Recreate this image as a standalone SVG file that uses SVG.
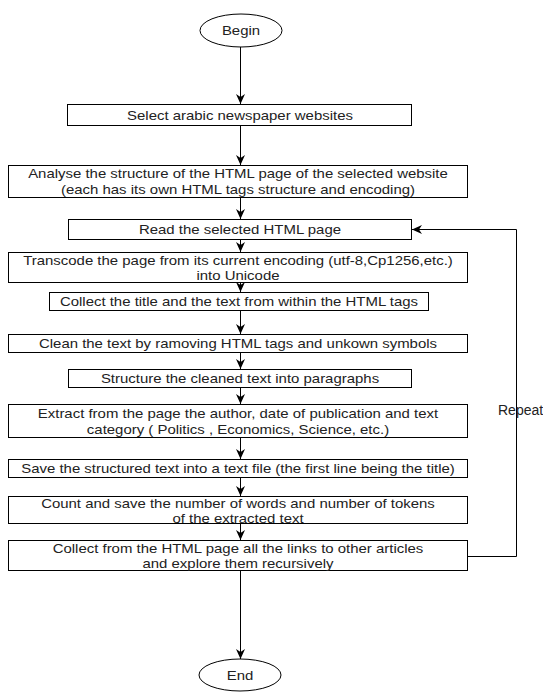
<svg xmlns="http://www.w3.org/2000/svg" width="543" height="692" viewBox="0 0 543 692">
<defs>
<marker id="arr" markerWidth="10" markerHeight="10" viewBox="0 0 10 10" refX="10" refY="5" orient="auto" markerUnits="userSpaceOnUse">
<path d="M0,0.5 L10,5 L0,9.5 L3,5 Z" fill="#000"/>
</marker>
<style>
.n{fill:#fff;stroke:#000;stroke-width:1}
.t{font-family:"Liberation Sans",Arial,sans-serif;font-size:13px;fill:#222;text-anchor:middle;dominant-baseline:central}
.w{transform-box:fill-box;transform-origin:center;transform:scaleX(1.15)}
.r{font-size:14px;text-anchor:start}
.c{fill:none;stroke:#000;stroke-width:1;marker-end:url(#arr)}
</style>
</defs>
<rect width="543" height="692" fill="#fff"/>
<g id="connectors">
<line class="c" x1="240.5" y1="47" x2="240.5" y2="104"/>
<line class="c" x1="240.5" y1="126" x2="240.5" y2="165"/>
<line class="c" x1="240.5" y1="198" x2="240.5" y2="219"/>
<line class="c" x1="240.5" y1="240" x2="240.5" y2="252"/>
<line class="c" x1="240.5" y1="283" x2="240.5" y2="292"/>
<line class="c" x1="240.5" y1="311" x2="240.5" y2="334"/>
<line class="c" x1="240.5" y1="352" x2="240.5" y2="369"/>
<line class="c" x1="240.5" y1="388" x2="240.5" y2="404"/>
<line class="c" x1="240.5" y1="438" x2="240.5" y2="459"/>
<line class="c" x1="240.5" y1="478" x2="240.5" y2="496"/>
<line class="c" x1="240.5" y1="524" x2="240.5" y2="540"/>
<line class="c" x1="240.5" y1="571" x2="240.5" y2="659"/>
<polyline class="c" points="467.5,556.5 516.5,556.5 516.5,229.5 412,229.5"/>
<text class="t r" x="498" y="410">Repeat</text>
</g>
<g id="begin"><ellipse class="n" cx="241" cy="30.5" rx="41" ry="16.5"/><text class="t w" x="241" y="30.5">Begin</text></g>
<g id="select"><rect class="n" x="67.5" y="104.5" width="344" height="21"/><text class="t w" x="240" y="115">Select arabic newspaper websites</text></g>
<g id="analyse"><rect class="n" x="8.5" y="165.5" width="459" height="32"/><text class="t w" x="238" y="173.5">Analyse the structure of the HTML page of the selected website</text><text class="t w" x="238" y="189.5">(each has its own HTML tags structure and encoding)</text></g>
<g id="read"><rect class="n" x="68.5" y="219.5" width="343" height="20"/><text class="t w" x="240" y="229.5">Read the selected HTML page</text></g>
<g id="transcode"><rect class="n" x="8.5" y="252.5" width="459" height="30"/><text class="t w" x="238" y="260">Transcode the page from its current encoding (utf-8,Cp1256,etc.)</text><text class="t w" x="238" y="275">into Unicode</text></g>
<g id="collect-title"><rect class="n" x="49.5" y="292.5" width="379" height="18"/><text class="t w" x="239" y="301.5">Collect the title and the text from within the HTML tags</text></g>
<g id="clean"><rect class="n" x="8.5" y="334.5" width="459" height="18"/><text class="t w" x="238" y="343.5">Clean the text by ramoving HTML tags and unkown symbols</text></g>
<g id="structure"><rect class="n" x="68.5" y="369.5" width="343" height="18"/><text class="t w" x="240" y="378.5">Structure the cleaned text into paragraphs</text></g>
<g id="extract"><rect class="n" x="8.5" y="404.5" width="459" height="33"/><text class="t w" x="238" y="413.5">Extract from the page the author, date of publication and text</text><text class="t w" x="238" y="429">category ( Politics , Economics, Science, etc.)</text></g>
<g id="save"><rect class="n" x="8.5" y="459.5" width="459" height="18"/><text class="t w" x="238" y="468.5">Save the structured text  into a text file (the first line being the title)</text></g>
<g id="count"><rect class="n" x="8.5" y="496.5" width="459" height="27"/><text class="t w" x="238" y="503">Count and save the number of words and number of tokens</text><text class="t w" x="238" y="518">of the extracted text</text></g>
<g id="collect-links"><rect class="n" x="8.5" y="540.5" width="459" height="30"/><text class="t w" x="238" y="548">Collect from the HTML page all the links to other articles</text><text class="t w" x="238" y="563">and explore them recursively</text></g>
<g id="end"><ellipse class="n" cx="240" cy="675" rx="41" ry="16"/><text class="t w" x="240" y="675">End</text></g>
</svg>
